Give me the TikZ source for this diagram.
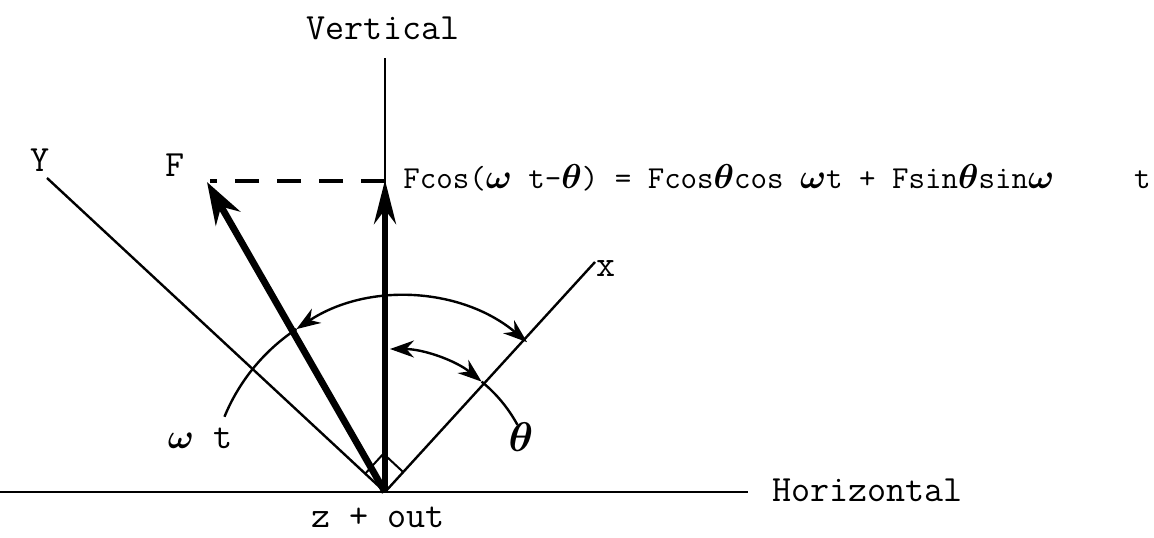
\documentclass[tikz,border=0pt]{standalone}
\usepackage{amsmath}
\usetikzlibrary{arrows.meta,calc}
\begin{document}
\begin{tikzpicture}[x=0.5pt,y=0.5pt,
  thinline/.style={line width=1.2pt,black},
  lbl/.style={font=\fontsize{18.5}{20}\selectfont\ttfamily,inner sep=0pt},
  eqlbl/.style={font=\fontsize{16}{18}\selectfont\ttfamily,inner sep=0pt},
  arcboth/.style={{Stealth[length=12pt,width=8.5pt]}-{Stealth[length=12pt,width=8.5pt]}},
  bigtip/.style={-{Stealth[length=21pt,width=14pt]}}]
\useasboundingbox (0,0) rectangle (1154,537);
\begin{scope}
\clip (0,0) rectangle (1154,537);
% coordinates
\coordinate (O) at (385,45);
\coordinate (hl) at (0,45);
\coordinate (hr) at (748,45);
\coordinate (vtop) at (385,479);
\coordinate (vtip) at (385,357);
\coordinate (Ftip) at (207,355);
\coordinate (dashL) at (210,356);
\coordinate (dashR) at (385,356);
\coordinate (Ytop) at (47,359);
\coordinate (xtop) at (595,275);
\coordinate (C1) at (403,47);
\coordinate (C2) at (390,43);
% axes
\draw[thinline] (hl) -- (hr);
\draw[thinline] (vtop) -- (O);
\draw[thinline] (Ytop) -- (O);
\draw[thinline] (O) -- (xtop);
% right angle marker
\draw[line width=1pt] ($(O)+(137.1:13.5pt)$) -- ($(O)+(137.1:13.5pt)+(47.6:13.5pt)$) -- ($(O)+(47.6:13.5pt)$);
% dashed projection
\draw[line width=1.8pt,dash pattern=on 12pt off 9pt] (dashR) -- (dashL);
% thick arrows
\draw[line width=3.4pt,bigtip] (O) -- (Ftip);
\draw[line width=3pt,-{Stealth[length=22pt,width=11pt]}] (O) -- (vtip);
% omega t arc
\draw[thinline] ($(C1)+(157.7:96.5pt)$) arc[start angle=157.7,end angle=123.5,radius=96.5pt];
\draw[thinline,arcboth] ($(C1)+(123.5:96.5pt)$) arc[start angle=123.5,end angle=50,radius=96.5pt];
% theta arc
\draw[thinline,arcboth] ($(C2)+(90:72.5pt)$) arc[start angle=90,end angle=50.8,radius=72.5pt];
\draw[thinline] ($(C2)+(50.8:72.5pt)$) arc[start angle=50.8,end angle=28.5,radius=72.5pt];
% labels
\node[lbl] (lV) at (383,509) {Vertical};
\node[lbl,anchor=west] (lH) at (772,47) {Horizontal};
\node[lbl] (lY) at (40,377) {Y};
\node[lbl] (lF) at (175,372) {F};
\node[lbl] (lx) at (606,268) {x};
\node[lbl] (lz) at (378,20) {z + out};
\node[lbl] (lwt) at (200,99) {$\boldsymbol{\omega}$ t};
\node[font=\fontsize{22}{24}\selectfont,inner sep=0pt] (lth) at (521,100) {$\boldsymbol{\theta}$};
\node[eqlbl,anchor=west] (leq) at (403,359) {Fcos($\boldsymbol{\omega}$ t-$\boldsymbol{\theta}$) = Fcos$\boldsymbol{\theta}$cos $\boldsymbol{\omega}$t + Fsin$\boldsymbol{\theta}$sin$\boldsymbol{\omega}$\hspace{40pt}t};
\end{scope}
\end{tikzpicture}
\end{document}
